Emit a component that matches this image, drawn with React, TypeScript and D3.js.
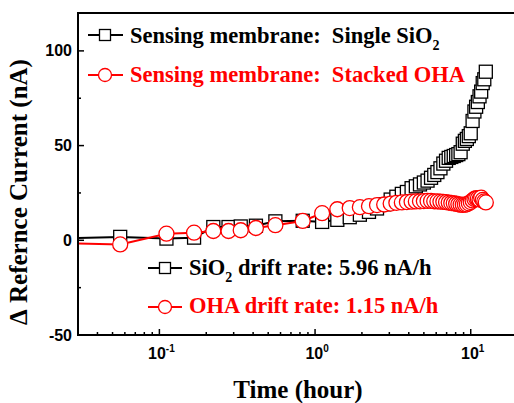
import * as d3 from 'd3';

// Δ reference current drift vs. time (log axis) for two sensing membranes.
const TIME_H = [
  0.01, 0.056, 0.111, 0.167, 0.222, 0.278, 0.333, 0.417, 0.556, 0.833,
  1.11, 1.39, 1.67, 1.94, 2.22, 2.5, 2.78, 3.06, 3.33, 3.61,
  3.89, 4.17, 4.44, 4.72, 5.0, 5.28, 5.56, 5.83, 6.11, 6.39,
  6.67, 6.94, 7.22, 7.5, 7.78, 8.06, 8.33, 8.61, 8.89, 9.17,
  9.44, 9.72, 10.0, 10.28, 10.56, 10.83, 11.11, 11.39, 11.67, 11.94,
  12.22, 12.5,
];

const SIO2_NA = [
  0.2, 1.8, 0.9, 1.4, 7.0, 7.0, 7.3, 7.7, 10.0, 10.3,
  9.7, 10.8, 12.2, 13.5, 15.0, 16.8, 19.0, 21.5, 23.0, 24.5,
  25.5, 27.5, 28.5, 29.5, 30.5, 31.5, 33.0, 34.5, 36.0, 38.0,
  40.5, 42.0, 43.5, 44.0, 44.5, 45.0, 45.5, 46.5, 51.0, 52.5,
  53.5, 55.0, 56.5, 63.0, 68.0, 70.5, 73.0, 76.0, 78.5, 83.0,
  85.0, 89.0,
];

const OHA_NA = [
  -0.8, -2.2, 3.5, 4.0, 4.9, 4.9, 5.3, 6.5, 8.0, 10.2,
  14.3, 16.4, 17.0, 17.5, 18.0, 18.6, 18.9, 19.4, 19.8, 20.0,
  20.2, 20.4, 20.5, 20.6, 20.7, 20.8, 20.8, 20.6, 20.5, 20.4,
  20.3, 20.1, 19.9, 19.7, 19.5, 19.3, 19.0, 18.8, 18.7, 18.8,
  19.0, 19.5, 20.2, 21.0, 21.8, 22.2, 22.0, 21.5, 22.5, 21.3,
  20.5, 20.0,
];

const X_MAJOR = [0.1, 1, 10];
const X_EXP = ['-1', '0', '1'];
const Y_MAJOR = [-50, 0, 50, 100];
const Y_MINOR = [-25, 25, 75];

const W = 514;
const H = 403;
const LEFT = 78;
const RIGHT = 545;
const TOP = 13;
const BOTTOM = 335;

const RED = '#FF0000';
const SERIF = '"Liberation Serif", "Times New Roman", serif';
const SANS = '"Liberation Sans", Arial, sans-serif';
const NB = '\u00A0';

type Pt = { t: number; v: number };

export default function App() {
  const x = d3.scaleLog().domain([0.03, 30]).range([LEFT, RIGHT]);
  const y = d3.scaleLinear().domain([-50, 120]).range([BOTTOM, TOP]);

  const sio2: Pt[] = TIME_H.map((t, i) => ({ t, v: SIO2_NA[i] }));
  const oha: Pt[] = TIME_H.map((t, i) => ({ t, v: OHA_NA[i] }));

  const line = d3.line<Pt>().x((d) => x(d.t)).y((d) => y(d.v));

  const xMinor = x.ticks().filter((t) => !X_MAJOR.some((m) => Math.abs(m - t) < 1e-9));

  const sq = 13;
  const cr = 7.5;

  return (
    <svg
      width={W}
      height={H}
      style={{ position: 'fixed', left: 0, top: 0, background: '#fff' }}
    >
      <defs>
        <clipPath id="plot">
          <rect x={LEFT} y={TOP} width={RIGHT - LEFT} height={BOTTOM - TOP} />
        </clipPath>
      </defs>

      <g clipPath="url(#plot)">
        {/* SiO2 series */}
        <path d={line(sio2) ?? ''} fill="none" stroke="#000" strokeWidth={2} />
        {sio2.map((d, i) => (
          <rect
            key={`s${i}`}
            x={x(d.t) - sq / 2}
            y={y(d.v) - sq / 2}
            width={sq}
            height={sq}
            fill="#fff"
            stroke="#000"
            strokeWidth={1.3}
          />
        ))}
        {/* OHA series */}
        <path d={line(oha) ?? ''} fill="none" stroke={RED} strokeWidth={2} />
        {oha.map((d, i) => (
          <circle
            key={`o${i}`}
            cx={x(d.t)}
            cy={y(d.v)}
            r={cr}
            fill="#fff"
            stroke={RED}
            strokeWidth={1.3}
          />
        ))}
      </g>

      {/* frame */}
      <line x1={LEFT} x2={RIGHT} y1={TOP} y2={TOP} stroke="#000" strokeWidth={2} />
      <line x1={LEFT} x2={RIGHT} y1={BOTTOM} y2={BOTTOM} stroke="#000" strokeWidth={2} />
      <line x1={LEFT} x2={LEFT} y1={TOP - 1} y2={BOTTOM + 1} stroke="#000" strokeWidth={2} />

      {/* y ticks */}
      {Y_MAJOR.map((v) => (
        <g key={`ym${v}`}>
          <line x1={LEFT} x2={LEFT + 6} y1={y(v)} y2={y(v)} stroke="#000" strokeWidth={1.5} />
          <text
            x={LEFT - 6}
            y={y(v) + 5.5}
            textAnchor="end"
            fontFamily={SANS}
            fontWeight="bold"
            fontSize={16}
          >
            {v}
          </text>
        </g>
      ))}
      {Y_MINOR.map((v) => (
        <line key={`yn${v}`} x1={LEFT} x2={LEFT + 3} y1={y(v)} y2={y(v)} stroke="#000" strokeWidth={1.5} />
      ))}

      {/* x ticks */}
      {X_MAJOR.map((t, i) => (
        <g key={`xm${t}`}>
          <line x1={x(t)} x2={x(t)} y1={BOTTOM} y2={BOTTOM - 6} stroke="#000" strokeWidth={1.5} />
          <text
            x={x(t) + 2}
            y={359}
            textAnchor="middle"
            fontFamily={SANS}
            fontWeight="bold"
            fontSize={16}
          >
            10
            <tspan fontSize={10} dy={-7}>{X_EXP[i]}</tspan>
          </text>
        </g>
      ))}
      {xMinor.map((t) => (
        <line key={`xn${t}`} x1={x(t)} x2={x(t)} y1={BOTTOM} y2={BOTTOM - 3} stroke="#000" strokeWidth={1.5} />
      ))}

      {/* axis titles */}
      <text
        x={298}
        y={398}
        textAnchor="middle"
        fontFamily={SERIF}
        fontWeight="bold"
        fontSize={25}
      >
        Time (hour)
      </text>
      <text
        transform="translate(27,192) rotate(-90)"
        textAnchor="middle"
        fontFamily={SERIF}
        fontWeight="bold"
        fontSize={25}
      >
        {`Δ${NB}Refernce Current (nA)`}
      </text>

      {/* top legend */}
      <g fontFamily={SERIF} fontWeight="bold" fontSize={22.5}>
        <line x1={88} x2={123} y1={35} y2={35} stroke="#000" strokeWidth={2} />
        <rect x={105 - 5.5} y={35 - 5.5} width={11} height={11} fill="#fff" stroke="#000" strokeWidth={1.3} />
        <text x={130} y={42.5} fill="#000">
          {`Sensing membrane:${NB}${NB}Single SiO`}
          <tspan fontSize={14} dy={7}>2</tspan>
        </text>

        <line x1={88} x2={123} y1={75} y2={75} stroke={RED} strokeWidth={2} />
        <circle cx={105} cy={75} r={6.5} fill="#fff" stroke={RED} strokeWidth={1.3} />
        <text x={130} y={82} fill={RED}>
          {`Sensing membrane:${NB}${NB}Stacked OHA`}
        </text>

        {/* drift-rate legend */}
        <line x1={148} x2={182} y1={268} y2={268} stroke="#000" strokeWidth={2} />
        <rect x={165 - 5.5} y={268 - 5.5} width={11} height={11} fill="#fff" stroke="#000" strokeWidth={1.3} />
        <text x={189} y={275} fill="#000">
          SiO
          <tspan fontSize={14} dy={7}>2</tspan>
          <tspan dy={-7}>{`${NB}drift rate: 5.96 nA/h`}</tspan>
        </text>

        <line x1={148} x2={182} y1={307} y2={307} stroke={RED} strokeWidth={2} />
        <circle cx={165} cy={307} r={6.5} fill="#fff" stroke={RED} strokeWidth={1.3} />
        <text x={189} y={313} fill={RED}>
          {'OHA drift rate: 1.15 nA/h'}
        </text>
      </g>
    </svg>
  );
}
